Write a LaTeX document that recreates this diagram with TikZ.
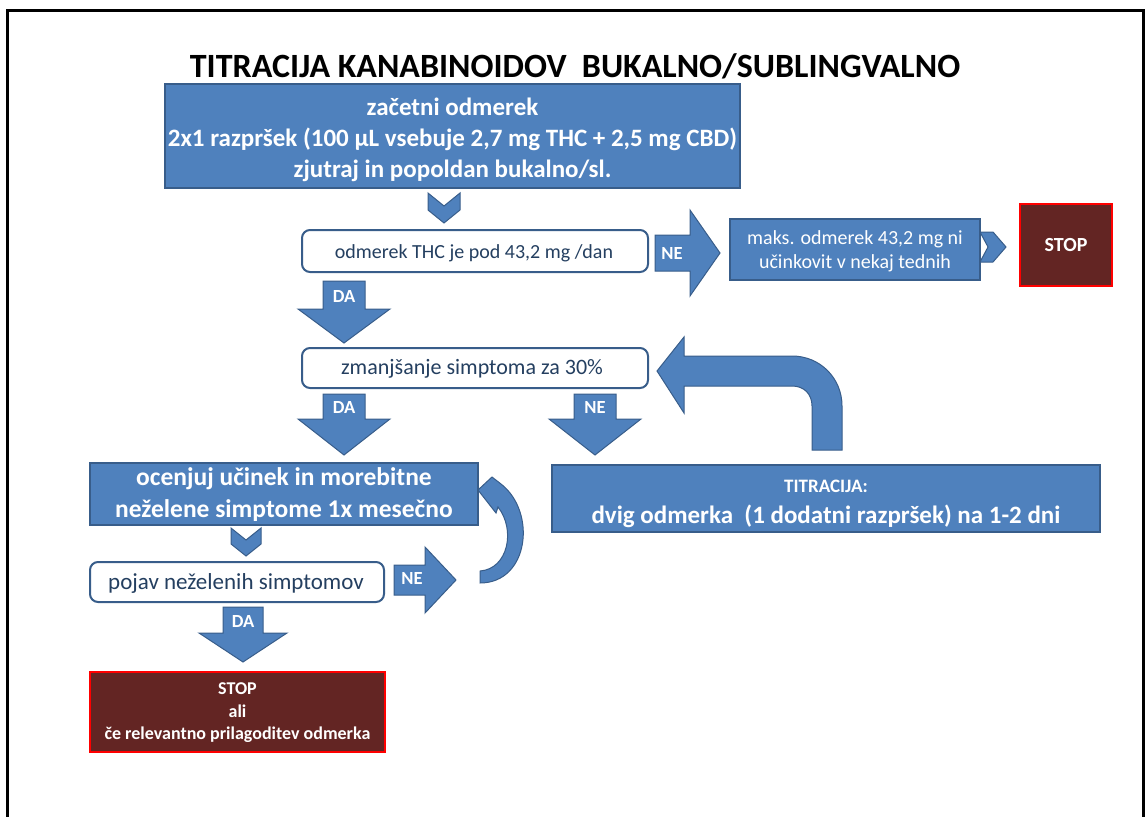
\documentclass[tikz,border=0pt]{standalone}
\usepackage{fontspec}
\setmainfont{Carlito}
\definecolor{bfill}{HTML}{4F81BD}
\definecolor{bline}{HTML}{385D8A}
\definecolor{dtext}{HTML}{243F60}
\definecolor{sfill}{HTML}{632523}
\newcommand{\blockdown}[6]{%
  \filldraw[barrow] (#1-#5,#2) -- (#1+#5,#2) -- (#1+#5,#3) -- (#1+#6,#3) -- (#1,#4) -- (#1-#6,#3) -- (#1-#5,#3) -- cycle;}
\newcommand{\blockright}[6]{%
  \filldraw[barrow] (#2,#1-#5) -- (#3,#1-#5) -- (#3,#1-#6) -- (#4,#1) -- (#3,#1+#6) -- (#3,#1+#5) -- (#2,#1+#5) -- cycle;}
\tikzset{
  bluebox/.style={fill=bfill, draw=bline, line width=1.2pt, inner sep=0pt, text=white, align=center},
  decbox/.style={fill=white, draw=bline, line width=2pt, rounded corners=8pt, inner sep=0pt, text=dtext},
  stopbox/.style={fill=sfill, draw=red, line width=2pt, inner sep=0pt, text=white, align=center},
  barrow/.style={fill=bfill, draw=bline, line width=1pt},
  wtext/.style={text=white, inner sep=0pt, align=center},
  dtxt/.style={text=dtext, inner sep=0pt},
  alabel/.style={text=white, font=\bfseries\fontsize{18.5}{21}\selectfont, inner sep=0pt}
}
\begin{document}
\begin{tikzpicture}[x=1pt,y=-1pt]
\useasboundingbox (0,0) rectangle (1145,816);
\draw[line width=3pt] (7,820) -- (7,11) -- (1143,11) -- (1143,820);

\node[font=\bfseries\fontsize{34}{38}\selectfont, inner sep=0pt] (title) at (575,66) {TITRACIJA KANABINOIDOV\ \ BUKALNO/SUBLINGVALNO};

\node[bluebox, minimum width=575, minimum height=104] (start) at (452.5,136) {};
\node[wtext, font=\bfseries\fontsize{25}{31}\selectfont] (starttext) at (452.5,140)
  {začetni odmerek\\2x1 razpršek (100 µL vsebuje 2,7 mg THC + 2,5 mg CBD)\\zjutraj in popoldan bukalno/sl.};

% chevron down 1
\filldraw[barrow] (428,193) -- (444,206) -- (460,193) -- (460,210) -- (444,223) -- (428,210) -- cycle;

\node[decbox, minimum width=346, minimum height=42] (d1) at (475,251) {};
\node[dtxt, font=\fontsize{20}{24}\selectfont] (d1t) at (474,253) {odmerek THC je pod 43,2 mg /dan};

\blockright{253}{655}{690}{720}{18}{43}
\node[alabel] (ne1) at (672,253) {NE};

\node[bluebox, minimum width=250, minimum height=61] (maks) at (855,249.5) {};
\node[wtext, font=\fontsize{20}{24}\selectfont] (makst) at (855,251)
  {maks. odmerek 43,2 mg ni\\učinkovit v nekaj tednih};

\filldraw[barrow] (980,232) -- (993,232) -- (1006,247) -- (993,262) -- (980,262) -- (988,247) -- cycle;

\node[stopbox, minimum width=92, minimum height=82, font=\bfseries\fontsize{20}{23}\selectfont] (stop1) at (1066,245) {STOP};

\blockdown{344}{281}{309}{343}{21}{46}
\node[alabel] (da1) at (344,296) {DA};

\node[decbox, minimum width=346, minimum height=40] (d2) at (475,368) {};
\node[dtxt, font=\fontsize{22}{26}\selectfont] (d2t) at (472,369) {zmanjšanje simptoma za 30\%};

\blockdown{344}{394}{419}{455}{21}{46}
\node[alabel] (da2) at (344,407) {DA};
\blockdown{595}{394}{419}{455}{21}{46}
\node[alabel] (ne2) at (595,407) {NE};

% U-turn arrow
\filldraw[barrow] (684,356) -- (792,356) .. controls (820,356) and (842,378) .. (842,406) -- (842,450) -- (812,450) -- (812,406) .. controls (812,394) and (804,386) .. (792,386) -- (684,386) -- (684,413) -- (657,371) -- (684,337) -- cycle;

\node[bluebox, minimum width=388, minimum height=62] (oc) at (284,494) {};
\node[wtext, font=\bfseries\fontsize{25.5}{32}\selectfont] (oct) at (284,495)
  {ocenjuj učinek in morebitne\\neželene simptome 1x mesečno};

\node[bluebox, minimum width=548, minimum height=67] (tit) at (826,498.5) {};
\node[wtext, font=\bfseries\fontsize{19}{22}\selectfont] (tit1) at (826,486) {TITRACIJA:};
\node[wtext, font=\bfseries\fontsize{25}{29}\selectfont] (tit2) at (826,516) {dvig odmerka\ \ (1 dodatni razpršek) na 1-2 dni};

\filldraw[barrow] (231,528) -- (246,540) -- (261,528) -- (261,544) -- (246,556) -- (231,544) -- cycle;

\node[decbox, minimum width=294, minimum height=40] (d3) at (237,582) {};
\node[dtxt, font=\fontsize{23}{27}\selectfont] (d3t) at (236,583) {pojav neželenih simptomov};

\blockright{580}{394}{425}{456}{15}{33}
\node[alabel] (ne3) at (412,578) {NE};

% curved arrow back to evaluation box
\filldraw[barrow] (480,571) .. controls (508,569) and (516,530) .. (498,507) -- (496,513) -- (478,490) -- (492,477) -- (501,484) .. controls (537,512) and (529,583) .. (480,583) -- cycle;

\blockdown{243}{607}{633}{662}{20}{44}
\node[alabel] (da3) at (243,621) {DA};

\node[stopbox, minimum width=295, minimum height=80] (stop2) at (237.5,712) {};
\node[wtext, font=\bfseries\fontsize{18}{22.5}\selectfont] (stop2t) at (237.5,713)
  {STOP\\ali\\če relevantno prilagoditev odmerka};
\end{tikzpicture}
\end{document}
